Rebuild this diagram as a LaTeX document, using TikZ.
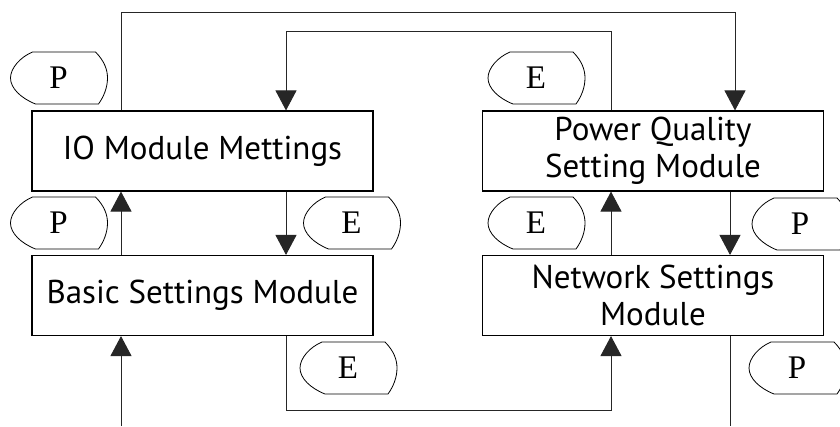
\documentclass[tikz,border=0pt]{standalone}
\usepackage{fontspec}
\setmainfont{Liberation Serif}
\setsansfont{PT Sans}
\usetikzlibrary{arrows.meta,calc}

\begin{document}
\begin{tikzpicture}[x=1pt, y=-1pt,
    module/.style={draw, line width=1.1pt, minimum width=341pt, minimum height=80pt,
        align=center, inner sep=0pt, font=\sffamily\fontsize{33}{37}\selectfont},
    tagtext/.style={inner sep=0pt, font=\fontsize{33}{33}\selectfont},
    tagline/.style={line width=0.8pt},
    link/.style={line width=0.9pt, draw=black!85},
    arr/.style={link, -{Triangle[width=21pt,length=20pt]}}]
    \useasboundingbox (0,0) rectangle (840,426);
    \clip (0,0) rectangle (840,426);

    % Module boxes
    \node[module] (io) at (202.5,151) {IO Module Mettings};
    \node[module] (bs) at (202.5,295.5) {Basic Settings Module};
    \node[module] (pq) at (653,151) {Power Quality\\Setting Module};
    \node[module] (net) at (653,295.5) {Network Settings\\Module};

    % vertical lanes and free ends
    \coordinate (xa) at (121,0);
    \coordinate (xb) at (286,0);
    \coordinate (xc) at (611,0);
    \coordinate (xd) at (735,0);
    \coordinate (xe) at (730,0);
    \coordinate (inL) at (121,426);
    \coordinate (outR) at (730,426);

    % Connectors
    \draw[arr] (io.north -| xa) -- ++(0,-98) -| (pq.north -| xd);
    \draw[arr] (pq.north -| xc) -- ++(0,-79) -| (io.north -| xb);
    \draw[arr] (bs.north -| xa) -- (io.south -| xa);
    \draw[arr] (io.south -| xb) -- (bs.north -| xb);
    \draw[arr] (net.north -| xc) -- (pq.south -| xc);
    \draw[arr] (pq.south -| xe) -- (net.north -| xe);
    \draw[arr] (inL) -- (bs.south -| xa);
    \draw[arr] (bs.south -| xb) -- ++(0,74) -| (net.south -| xc);
    \draw[link] (net.south -| xe) -- (outR);

    % Tags
    \node[tagtext] (tp1) at (58.5,78) {P};
    \node[tagtext] (te1) at (536,78) {E};
    \node[tagtext] (tp2) at (58.5,223) {P};
    \node[tagtext] (te2) at (351.5,223) {E};
    \node[tagtext] (te3) at (536,223) {E};
    \node[tagtext] (tp3) at (800,224) {P};
    \node[tagtext] (te4) at (348,368) {E};
    \node[tagtext] (tp4) at (797,368) {P};
    \foreach \t in {tp1,te1,tp2,te2,te3,tp3,te4,tp4}
        \draw[tagline, shift={(\t.center)}] (-26,-26) -- (37,-26)
            .. controls (46,-17) and (49,-8) .. (49,0)
            .. controls (49,10) and (45,19) .. (40,26) -- (-23,26)
            .. controls (-38,20) and (-48,10) .. (-48,0)
            .. controls (-48,-10) and (-38,-21) .. (-26,-26) -- cycle;
\end{tikzpicture}
\end{document}
